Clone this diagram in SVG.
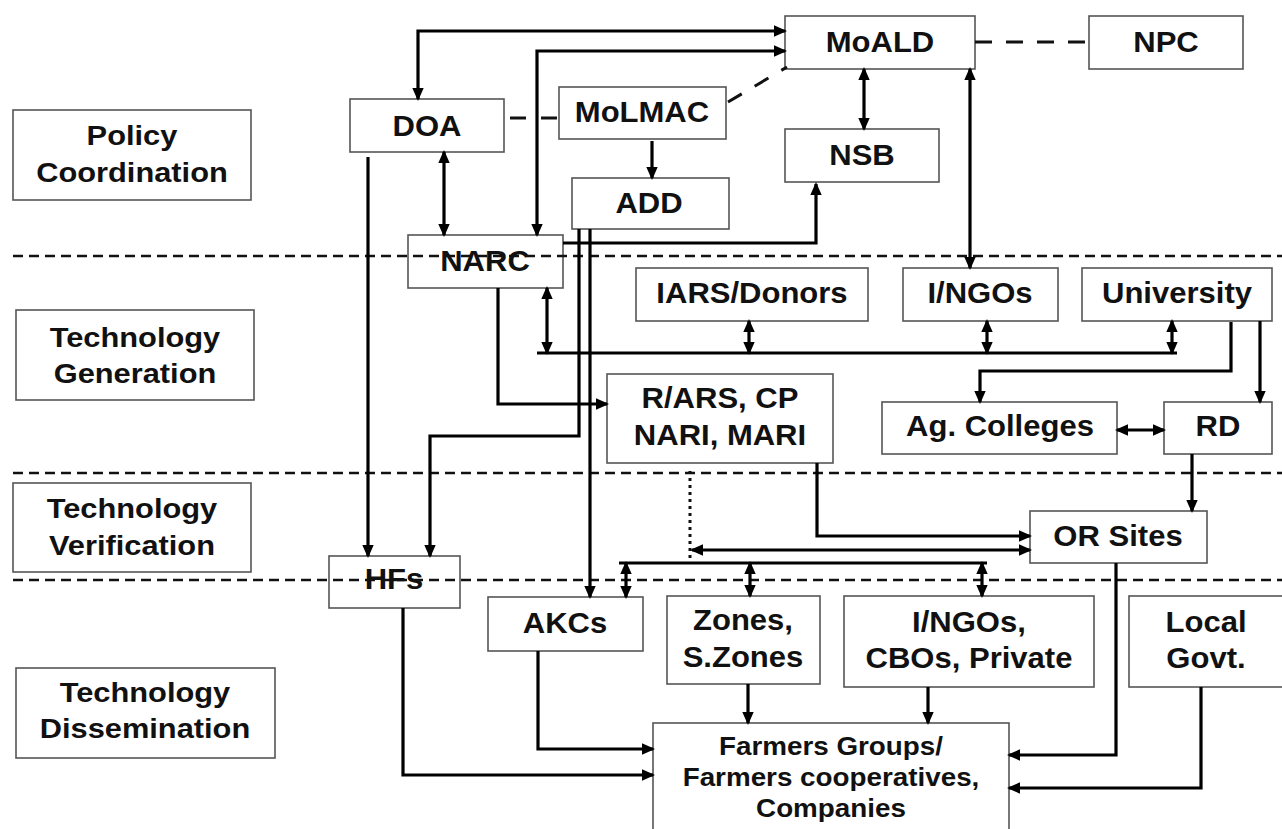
<svg xmlns="http://www.w3.org/2000/svg" width="1282" height="829" viewBox="0 0 1282 829">
<style>
.box{fill:#fff;stroke:#555;stroke-width:1.6}
.t{font-family:"Liberation Sans",Arial,sans-serif;font-weight:bold;font-size:29px;fill:#111;text-anchor:middle;transform-box:fill-box;transform-origin:center;transform:scaleX(1.07)}
.lab{font-size:28px;transform:scaleX(1.1)}
.far{font-size:26px}
.c{fill:none;stroke:#000;stroke-width:3.2;stroke-linejoin:miter}
.a{marker-end:url(#ah)}
.d{marker-start:url(#ah);marker-end:url(#ah)}
.div{fill:none;stroke:#111;stroke-width:2.5;stroke-dasharray:10,6}
.dash{fill:none;stroke:#111;stroke-width:3;stroke-dasharray:16,15}
.dot{fill:none;stroke:#111;stroke-width:3;stroke-dasharray:3,4}
</style>
<defs>
<marker id="ah" viewBox="0 0 13 12" refX="11" refY="6" markerWidth="13" markerHeight="12" markerUnits="userSpaceOnUse" orient="auto-start-reverse">
<path d="M0,0.3 L13,6 L0,11.7 z" fill="#000"/>
</marker>
</defs>
<rect width="1282" height="829" fill="#fff"/>

<g id="labels">
<g id="lab-policy"><rect class="box" x="13" y="110" width="238" height="90"/><text class="t lab" x="132" y="145">Policy</text><text class="t lab" x="132" y="182">Coordination</text></g>
<g id="lab-generation"><rect class="box" x="16" y="310" width="238" height="90"/><text class="t lab" x="135" y="347">Technology</text><text class="t lab" x="135" y="383">Generation</text></g>
<g id="lab-verification"><rect class="box" x="13" y="483" width="238" height="89"/><text class="t lab" x="132" y="518">Technology</text><text class="t lab" x="132" y="555">Verification</text></g>
<g id="lab-dissemination"><rect class="box" x="16" y="668" width="259" height="90"/><text class="t lab" x="145" y="702">Technology</text><text class="t lab" x="145" y="738">Dissemination</text></g>
</g>

<g id="nodes">
<g id="MoALD"><rect class="box" x="785" y="16" width="190" height="53"/><text class="t" x="880" y="52">MoALD</text></g>
<g id="NPC"><rect class="box" x="1089" y="16" width="154" height="53"/><text class="t" x="1166" y="52">NPC</text></g>
<g id="DOA"><rect class="box" x="350" y="99" width="154" height="53"/><text class="t" x="427" y="136">DOA</text></g>
<g id="MoLMAC"><rect class="box" x="559" y="87" width="167" height="52"/><text class="t" x="642" y="122">MoLMAC</text></g>
<g id="NSB"><rect class="box" x="785" y="129" width="154" height="53"/><text class="t" x="862" y="165">NSB</text></g>
<g id="ADD"><rect class="box" x="572" y="178" width="157" height="51"/><text class="t" x="649" y="213">ADD</text></g>
<g id="NARC"><rect class="box" x="408" y="235" width="155" height="53"/><text class="t" x="485" y="271">NARC</text></g>
<g id="IARS"><rect class="box" x="636" y="268" width="232" height="53"/><text class="t" x="752" y="303">IARS/Donors</text></g>
<g id="INGOs"><rect class="box" x="903" y="268" width="155" height="53"/><text class="t" x="980" y="303">I/NGOs</text></g>
<g id="University"><rect class="box" x="1082" y="268" width="190" height="53"/><text class="t" x="1177" y="303">University</text></g>
<g id="RARS"><rect class="box" x="607" y="374" width="226" height="89"/><text class="t" x="720" y="408">R/ARS, CP</text><text class="t" x="720" y="445">NARI, MARI</text></g>
<g id="AgColleges"><rect class="box" x="882" y="402" width="235" height="52"/><text class="t" x="1000" y="436">Ag. Colleges</text></g>
<g id="RD"><rect class="box" x="1164" y="402" width="108" height="52"/><text class="t" x="1218" y="436">RD</text></g>
<g id="ORSites"><rect class="box" x="1030" y="511" width="177" height="52"/><text class="t" x="1118" y="546">OR Sites</text></g>
<g id="HFs"><rect class="box" x="329" y="556" width="131" height="52"/><text class="t" x="394" y="589">HFs</text></g>
<g id="AKCs"><rect class="box" x="488" y="597" width="155" height="54"/><text class="t" x="565" y="633">AKCs</text></g>
<g id="Zones"><rect class="box" x="667" y="596" width="153" height="88"/><text class="t" x="743" y="630">Zones,</text><text class="t" x="743" y="667">S.Zones</text></g>
<g id="INGOsCBOs"><rect class="box" x="844" y="596" width="250" height="91"/><text class="t" x="969" y="632">I/NGOs,</text><text class="t" x="969" y="668">CBOs, Private</text></g>
<g id="LocalGovt"><rect class="box" x="1129" y="596" width="156" height="91"/><text class="t" x="1206" y="632">Local</text><text class="t" x="1206" y="668">Govt.</text></g>
<g id="Farmers"><rect class="box" x="653" y="723" width="356" height="112"/><text class="t far" x="831" y="755">Farmers Groups/</text><text class="t far" x="831" y="786">Farmers cooperatives,</text><text class="t far" x="831" y="817">Companies</text></g>
</g>

<g id="dividers">
<path class="div" d="M13,256 H1282"/>
<path class="div" d="M13,473 H1282"/>
<path class="div" d="M13,580 H1282"/>
</g>

<g id="connectors">
<path class="dash" d="M975,42 H1089" style="stroke-dasharray:17,14"/>
<path class="dash" d="M510,118 H559"/>
<path class="dash" d="M728,102 L787,67"/>
<path class="dot" d="M690,471 V563"/>
<path class="c d" d="M418,99 V31 H785"/>
<path class="c d" d="M537,235 V51 H785"/>
<path class="c d" d="M864,69 V129"/>
<path class="c d" d="M970,69 V268"/>
<path class="c a" d="M652,141 V178"/>
<path class="c d" d="M444,152 V235"/>
<path class="c a" d="M368,157 V556"/>
<path class="c a" d="M579,229 V436 H430 V556"/>
<path class="c a" d="M590,229 V597"/>
<path class="c a" d="M563,243 H816 V184"/>
<path class="c a" d="M498,288 V404 H607"/>
<path class="c d" d="M547,288 V353"/>
<path class="c" d="M537,353 H1177"/>
<path class="c d" d="M749,321 V353"/>
<path class="c d" d="M987,321 V353"/>
<path class="c d" d="M1172,321 V353"/>
<path class="c a" d="M1231,322 V371 H980 V402"/>
<path class="c a" d="M1260,321 V402"/>
<path class="c d" d="M1117,430 H1164"/>
<path class="c a" d="M1192,454 V511"/>
<path class="c a" d="M817,463 V536 H1030"/>
<path class="c d" d="M692,550 H1030"/>
<path class="c" d="M619,563 H987"/>
<path class="c d" d="M626,563 V597"/>
<path class="c d" d="M750,563 V596"/>
<path class="c d" d="M982,563 V596"/>
<path class="c a" d="M1116,563 V755 H1009"/>
<path class="c a" d="M1201,687 V788 H1009"/>
<path class="c a" d="M928,687 V723"/>
<path class="c a" d="M748,684 V723"/>
<path class="c a" d="M538,651 V749 H653"/>
<path class="c a" d="M403,608 V775 H653"/>
</g>
</svg>
